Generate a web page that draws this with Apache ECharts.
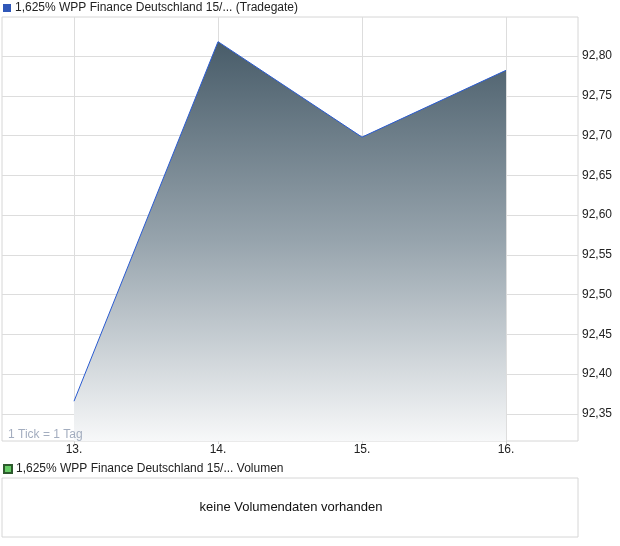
<!DOCTYPE html>
<html><head><meta charset="utf-8">
<script src="https://cdn.jsdelivr.net/npm/echarts@6/dist/echarts.min.js"></script>
<style>html,body{margin:0;padding:0;background:#fff}#c{width:620px;height:546px}</style>
</head><body><div id="c"></div>
<script>
const categories = ['13.', '14.', '15.', '16.'];
const prices = [92.366, 92.818, 92.698, 92.782];
const yTicks = [92.35, 92.40, 92.45, 92.50, 92.55, 92.60, 92.65, 92.70, 92.75, 92.80];
const mainName = '1,625% WPP Finance Deutschland 15/... (Tradegate)';
const volName = '1,625% WPP Finance Deutschland 15/... Volumen';
const volumes = [];

const xIdx = categories.map((c, i) => i);
const font = '"Liberation Sans", Arial, sans-serif';
const chart = echarts.init(document.getElementById('c'), null, {renderer: 'canvas'});
chart.setOption({
  animation: false,
  textStyle: {fontFamily: font},
  legend: [
    {data: [mainName], left: 0, top: 0, itemWidth: 8, itemHeight: 8, itemGap: 4, padding: [2, 3, 2, 3],
     icon: 'rect', selectedMode: false, textStyle: {fontSize: 12, color: '#222', fontFamily: font, padding: [0, 0, 0, -1]}},
    {data: [volName], left: 0, top: 461, itemWidth: 8, itemHeight: 8, itemGap: 4, padding: [2, 3, 2, 3],
     icon: 'rect', selectedMode: false, textStyle: {fontSize: 12, color: '#222', fontFamily: font, padding: [0, 0, 0, -1]}}
  ],
  graphic: [
    {type: 'text', left: 8, top: 429, z: 100,
     style: {text: '1 Tick = 1 Tag', fill: '#a3adbf', fontSize: 12, fontFamily: font}},
    {type: 'text', x: 291, y: 507, z: 100,
     style: {text: 'keine Volumendaten vorhanden', fill: '#111', fontSize: 13, fontFamily: font,
       align: 'center', verticalAlign: 'middle'}}
  ],
  grid: [
    {left: 2, right: 42, top: 17, height: 424, show: true, borderColor: '#d6d6d6', borderWidth: 1},
    {left: 2, right: 42, top: 478, height: 59, show: true, borderColor: '#d6d6d6', borderWidth: 1}
  ],
  xAxis: [
    {type: 'value', gridIndex: 0, min: -0.5, max: 3.5,
     axisLine: {show: false},
     axisTick: {show: true, customValues: xIdx, length: 3, inside: false, lineStyle: {color: '#d6d6d6'}},
     splitLine: {show: true, customValues: xIdx, lineStyle: {color: '#dddddd', width: 1}},
     axisLabel: {customValues: xIdx, margin: 3, fontSize: 12, color: '#222', fontFamily: font,
       formatter: v => categories[Math.round(v)]}},
    {type: 'category', gridIndex: 1, data: categories, show: false}
  ],
  yAxis: [
    {type: 'value', gridIndex: 0, position: 'right', min: 92.316, max: 92.849,
     axisLine: {show: false},
     axisTick: {show: false, customValues: yTicks},
     splitLine: {show: true, customValues: yTicks, lineStyle: {color: '#dddddd', width: 1}},
     axisLabel: {customValues: yTicks, margin: 4, fontSize: 12, color: '#222', fontFamily: font,
       formatter: v => v.toFixed(2).replace('.', ',')}},
    {type: 'value', gridIndex: 1, show: false, min: 0, max: 1}
  ],
  series: [
    {name: mainName, type: 'line', xAxisIndex: 0, yAxisIndex: 0,
     data: prices.map((v, i) => [i, v]), showSymbol: false, symbol: 'none',
     color: '#2f57b8',
     itemStyle: {color: '#2f57b8', borderColor: '#1a2f6e'},
     lineStyle: {color: '#2a5bd0', width: 1},
     areaStyle: {origin: 'start', opacity: 1, color: {type: 'linear', x: 0, y: 0, x2: 0, y2: 1,
       colorStops: [{offset: 0, color: '#485c69'}, {offset: 0.5, color: '#97a4ad'}, {offset: 1, color: '#f7f8f9'}]}}},
    {name: volName, type: 'bar', xAxisIndex: 1, yAxisIndex: 1, data: volumes,
     itemStyle: {color: '#66cc66', borderColor: '#2d5a2d', borderWidth: 1}}
  ]
});
</script></body></html>
